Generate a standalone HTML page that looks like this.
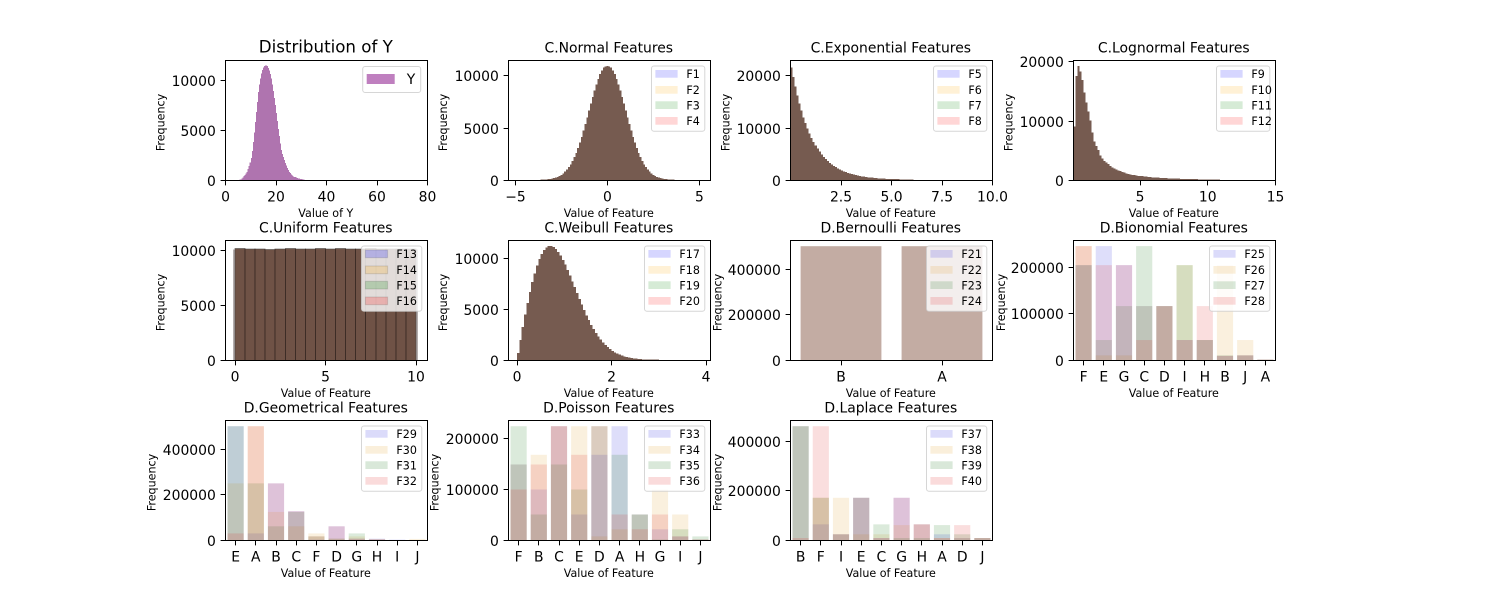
<!DOCTYPE html>
<html lang="en">
<head>
<meta charset="utf-8">
<title>Feature distributions</title>
<style>
html,body{margin:0;padding:0;background:#fff;width:1500px;height:600px;overflow:hidden}
svg{display:block}
text{font-family:"DejaVu Sans","Liberation Sans",sans-serif;fill:#000}
</style>
</head>
<body>
<svg id="chart" xmlns="http://www.w3.org/2000/svg" width="1500" height="600" viewBox="0 0 1500 600"></svg>
<script>
// ---------- histogram data ----------
const yCounts = [30,50,120,250,370,500,650,800,1080,1400,1750,2200,2900,3800,4750,5800,6800,7800,8800,9600,10200,10700,11050,11300,11420,11500,11490,11450,11250,11000,10650,10200,9600,8900,8200,7500,6700,5900,5100,4400,3650,3000,2600,2300,2000,1700,1450,1200,1000,800,670,550,450,350,300,260,210,170,140,110,85,60,45,30];
const normalCounts = [17,24,34,48,66,90,122,163,217,286,372,481,614,777,973,1208,1482,1801,2167,2581,3044,3555,4109,4704,5330,5979,6641,7304,7917,8548,9138,9663,10110,10470,10733,10860,10900,10860,10733,10470,10110,9663,9138,8548,7917,7304,6641,5979,5330,4704,4109,3555,3044,2581,2167,1801,1482,1208,973,777,614,481,372,286,217,163,122,90,66,48,34,24,17];
const exponentialCounts = [21500,19700,17850,16150,14600,13220,11960,10825,9795,8863,8020,7257,6566,5941,5376,4864,4401,3982,3603,3260,2950,2670,2415,2185,1977,1790,1618,1464,1325,1199,1085,982,888,804,727,658,595,539,487,441,399,361,327,296,268,242,219,198,179,162,147,133,120,109,99,89,80,60,50,40,30];
const lognormalCounts = [9000,17500,19200,18300,16800,14700,13000,11500,10000,8000,6500,5700,5000,4100,3600,3200,2900,2650,2300,2100,1900,1750,1600,1450,1320,1200,1100,1000,920,850,790,730,680,640,600,560,520,490,460,430,400,380,360,340,320,300,280,260,240,225,210,195,180,170,160,150,140,130,120,110,100,95,90,85,80,75,70,65,60,50,45,40,30];
const uniformCounts = [10100,10080,10050,10040,10090,10110,10060,10090,10100,10050,10120,10090,10060,10110,10080,10060,10090,10080];
const uniformEdgeCounts = [10100,10080];
const weibullCounts = [649,1940,3194,4404,5550,6617,7589,8455,9206,9837,10343,10720,10974,11105,11127,11033,10840,10558,10204,9779,9302,8785,8233,7666,7093,6512,5942,5387,4855,4348,3867,3421,3007,2625,2283,1972,1695,1445,1229,1036,870,725,600,495,405,330,265,215,172,137,108,85,66,51,40,30,23,17,13,10];

// ---------- categorical data ----------
const bernoulliCategories = ['B','A'];
const f21Values = [500000,500000];
const f22Values = [500000,500000];
const f23Values = [500000,500000];
const f24Values = [500000,500000];

const binomialCategories = ['F','E','G','C','D','I','H','B','J','A'];
const f25Values = [205000,246000,205000,117000,117000,44000,44000,10000,11000,2000];
const f26Values = [246000,11000,11000,117000,117000,205000,44000,205000,44000,2000];
const f27Values = [205000,44000,117000,246000,117000,205000,44000,11000,11000,2000];
const f28Values = [246000,205000,205000,44000,117000,44000,117000,10000,11000,2000];

const geometricCategories = ['E','A','B','C','F','D','G','H','I','J'];
const f29Values = [500000,31000,250000,128000,4000,62000,8000,8000,4000,1000];
const f30Values = [250000,500000,125000,62000,31000,8000,18000,4000,2000,7000];
const f31Values = [500000,250000,62000,125000,18000,8000,31000,4000,2000,1000];
const f32Values = [31000,500000,250000,128000,18000,62000,8000,6000,2000,1000];

const poissonCategories = ['F','B','C','E','D','A','H','G','I','J'];
const f33Values = [149000,100000,224000,51000,168000,224000,51000,22000,8000,2000];
const f34Values = [149000,168000,224000,224000,8000,22000,51000,100000,51000,2000];
const f35Values = [224000,51000,149000,100000,224000,168000,51000,2000,22000,8000];
const f36Values = [100000,149000,224000,168000,224000,51000,22000,51000,8000,2000];

const laplaceCategories = ['B','F','I','E','C','G','H','A','D','J'];
const f37Values = [460000,65000,25000,172000,10000,172000,65000,25000,10000,10000];
const f38Values = [460000,172000,172000,25000,25000,62000,65000,10000,10000,10000];
const f39Values = [460000,172000,25000,172000,65000,10000,10000,62000,25000,10000];
const f40Values = [10000,460000,25000,172000,10000,172000,65000,10000,62000,10000];

// ---------- tick labels ----------
const yXTicks = [0,20,40,60,80];
const normalXTicks = [-5,0,5];
const exponentialXTicks = [2.5,5,7.5,10];
const lognormalXTicks = [5,10,15];
const uniformXTicks = [0,5,10];
const weibullXTicks = [0,2,4];
const ticks5k = [0,5000,10000];
const ticks10k = [0,10000,20000];
const ticks100k = [0,100000,200000];
const ticks200k = [0,200000,400000];

// ---------- styling ----------
const seriesColors = ['rgb(0,0,255)','rgb(255,165,0)','rgb(0,128,0)','rgb(255,0,0)'];
const barColors = ['rgb(32,32,223)','rgb(223,155,32)','rgb(16,112,16)','rgb(223,32,32)'];
const histColors = ['rgb(0,0,117)','rgb(117,76,0)','rgb(0,59,0)','rgb(117,0,0)'];
const colLeft = [225.5,508.5,790.5,1073.5];
const rowTop = [60.5,240.5,420.5];
const AXW = 202, AXH = 120;
const svg = document.getElementById('chart');
const NS = 'http://www.w3.org/2000/svg';

function make(parent, tag, name, attrs, txt) {
  const el = document.createElementNS(NS, tag);
  
  
  for (const k in attrs) el.setAttribute(k, attrs[k]);
  if (txt !== undefined) el.textContent = txt;
  parent.appendChild(el);
  return el;
}

function fmt(v, dec) {
  const s = dec ? v.toFixed(dec) : String(v);
  return s.replace('-', '\u2212');
}

function drawPanel(p) {
  const l = colLeft[p.col], t = rowTop[p.row], r = l + AXW, b = t + AXH;
  const g = make(svg, 'g', p.id + '-panel', {});
  const sx = v => l + (v - p.xlim[0]) / (p.xlim[1] - p.xlim[0]) * AXW;
  const sy = v => b - v / p.ymax * AXH;
  const marks = make(g, 'g', p.id + '-marks', {});

  if (p.hist) {
    p.names.forEach((nm, si) => {
      const layer = make(marks, 'g', nm + '-histogram', {'shape-rendering':'crispEdges'});
      const fill = p.single ? 'rgb(115,10,115)' : histColors[si];
      const op = p.single ? 0.57 : (p.layerOpacity || 0.2775);
      if (p.edgeCounts) {
        p.edgeCounts.forEach((c, i) => {
          const x0 = sx(p.edgeStarts[i]);
          make(layer, 'rect', nm + '-edge-bar', {x:x0, y:sy(c), width:sx(p.edgeStarts[i]+p.edgeWidth)-x0, height:b-sy(c), fill:'rgb(90,80,80)', opacity:0.14});
        });
      }
      p.hist.forEach((c, i) => {
        const x0 = sx(p.binStart + i * p.binWidth);
        const x1 = sx(p.binStart + (i + 1) * p.binWidth);
        const top = sy(c) - 0.7;
        const bar = make(layer, 'rect', nm + '-bar', {x:x0, y:top, width:x1 - x0, height:b - top, fill:fill, opacity:op});
        if (p.binEdges) { bar.setAttribute('stroke', '#000'); bar.setAttribute('stroke-width', '1'); bar.setAttribute('stroke-opacity', '0.4'); }
      });
    });
  } else {
    p.series.forEach((vals, si) => {
      const layer = make(marks, 'g', p.names[si] + '-bars', {});
      vals.forEach((v, i) => {
        const x0 = sx(i - 0.4), x1 = sx(i + 0.4);
        make(layer, 'rect', p.names[si] + '-bar-' + p.categories[i].toLowerCase(), {x:x0, y:sy(v), width:x1 - x0, height:b - sy(v), fill:barColors[si], 'fill-opacity':0.15});
      });
    });
  }

  // ticks
  const xTicks = p.hist ? p.xTicks : p.categories.map((c, i) => i);
  xTicks.forEach((v, i) => {
    const x = Math.round(sx(v) - 0.5) + 0.5;
    make(g, 'line', p.id + '-x-tick', {x1:x, x2:x, y1:b, y2:b + 4.9, stroke:'#000', 'stroke-width':1});
    make(g, 'text', p.id + '-x-tick-label', {x:sx(v), y:b + 21, 'text-anchor':'middle', 'font-size':13.9}, p.hist ? fmt(v, p.xDec) : p.categories[i]);
  });
  p.yTicks.forEach(v => {
    const y = Math.round(sy(v) - 0.5) + 0.5;
    make(g, 'line', p.id + '-y-tick', {x1:l - 4.9, x2:l, y1:y, y2:y, stroke:'#000', 'stroke-width':1});
    make(g, 'text', p.id + '-y-tick-label', {x:l - 9.7, y:y + 5.5, 'text-anchor':'end', 'font-size':13.9}, String(v));
  });

  // frame
  make(g, 'rect', p.id + '-axes-frame', {x:l, y:t, width:AXW, height:AXH, fill:'none', stroke:'#000', 'stroke-width':1});

  // labels
  make(g, 'text', p.id + '-title', {x:l + AXW / 2 - 0.7, y:t - 8, 'text-anchor':'middle', 'font-size':p.single ? 16.67 : 13.9}, p.title);
  make(g, 'text', p.id + '-x-axis-title', {x:l + AXW / 2 - 0.7, y:b + 36.6, 'text-anchor':'middle', 'font-size':11.1}, p.xLabel);
  make(g, 'text', p.id + '-y-axis-title', {x:0, y:0, 'text-anchor':'middle', 'font-size':11.1, transform:'translate(' + (p.ylabelX + 4) + ',' + (t + AXH / 2 + 2) + ') rotate(-90)'}, 'Frequency');

  // legend
  const lg = make(g, 'g', p.id + '-legend', {});
  if (p.single) {
    make(lg, 'rect', p.id + '-legend-box', {x:362.7, y:t + 6, width:58, height:26, rx:2.5, fill:'#fff', 'fill-opacity':0.8, stroke:'#ccc', 'stroke-opacity':0.8, 'stroke-width':1});
    make(lg, 'rect', 'legend-swatch-y', {x:366.7, y:t + 13.5, width:28, height:10, fill:'rgb(128,0,128)', 'fill-opacity':0.5});
    make(lg, 'text', 'legend-label-y', {x:406.7, y:t + 23.5, 'font-size':13.9}, 'Y');
  } else {
    const w = p.names[0].length > 2 ? 60.3 : 53.3;
    const bx = r - 5.7 - w, by = t + 5.5;
    make(lg, 'rect', p.id + '-legend-box', {x:bx, y:by, width:w, height:65.3, rx:2.5, fill:'#fff', 'fill-opacity':0.8, stroke:'#ccc', 'stroke-opacity':0.8, 'stroke-width':1});
    const patchTops = [4,20,35.3,51];
    const palette = p.hist ? seriesColors : barColors;
    p.names.forEach((nm, i) => {
      const sw = make(lg, 'rect', 'legend-swatch-' + nm.toLowerCase(), {x:bx + 3.9, y:by + patchTops[i], width:22.2, height:7.7, fill:palette[i], 'fill-opacity':p.patchOpacity || 0.16});
      if (p.patchOpacity) { sw.setAttribute('stroke', '#000'); sw.setAttribute('stroke-opacity', '0.12'); }
      make(lg, 'text', 'legend-label-' + nm.toLowerCase(), {x:bx + 34.9, y:by + patchTops[i] + 8, 'font-size':11.1}, nm);
    });
  }
}

const FEAT = 'Value of Feature';
drawPanel({id:'y-dist', col:0, row:0, single:true, title:'Distribution of Y', xLabel:'Value of Y', ylabelX:160.7, xlim:[0,80], ymax:12060, hist:yCounts, binStart:5.6, binWidth:0.4, xTicks:yXTicks, yTicks:ticks5k, names:['Y']});
drawPanel({id:'normal', col:1, row:0, title:'C.Normal Features', xLabel:FEAT, ylabelX:443, xlim:[-5.38,5.6], ymax:11480, hist:normalCounts, binStart:-3.65, binWidth:0.1, xTicks:normalXTicks, yTicks:ticks5k, names:['F1','F2','F3','F4']});
drawPanel({id:'exponential', col:2, row:0, title:'C.Exponential Features', xLabel:FEAT, ylabelX:725.7, xlim:[0,10], ymax:22950, hist:exponentialCounts, binStart:0, binWidth:0.1, xTicks:exponentialXTicks, xDec:1, yTicks:ticks10k, names:['F5','F6','F7','F8']});
drawPanel({id:'lognormal', col:3, row:0, title:'C.Lognormal Features', xLabel:FEAT, ylabelX:1008.3, xlim:[0.09,15], ymax:20240, hist:lognormalCounts, binStart:0.09, binWidth:0.148, xTicks:lognormalXTicks, yTicks:ticks10k, names:['F9','F10','F11','F12']});
drawPanel({id:'uniform', col:0, row:1, title:'C.Uniform Features', xLabel:FEAT, ylabelX:160.7, xlim:[-0.525,10.635], ymax:10909, hist:uniformCounts, binStart:0, binWidth:0.5556, binEdges:true, layerOpacity:0.3, edgeCounts:uniformEdgeCounts, edgeStarts:[-0.1,10], edgeWidth:0.1, patchOpacity:0.2, xTicks:uniformXTicks, yTicks:ticks5k, names:['F13','F14','F15','F16']});
drawPanel({id:'weibull', col:1, row:1, title:'C.Weibull Features', xLabel:FEAT, ylabelX:443, xlim:[-0.18,4.095], ymax:11730, hist:weibullCounts, binStart:0, binWidth:0.05, xTicks:weibullXTicks, yTicks:ticks5k, names:['F17','F18','F19','F20']});
drawPanel({id:'bernoulli', col:2, row:1, title:'D.Bernoulli Features', xLabel:FEAT, ylabelX:717.3, xlim:[-0.5,1.5], ymax:525000, categories:bernoulliCategories, series:[f21Values,f22Values,f23Values,f24Values], yTicks:ticks200k, names:['F21','F22','F23','F24']});
drawPanel({id:'binomial', col:3, row:1, title:'D.Bionomial Features', xLabel:FEAT, ylabelX:1000.8, xlim:[-0.5,9.5], ymax:258000, categories:binomialCategories, series:[f25Values,f26Values,f27Values,f28Values], yTicks:ticks100k, names:['F25','F26','F27','F28']});
drawPanel({id:'geometrical', col:0, row:2, title:'D.Geometrical Features', xLabel:FEAT, ylabelX:151.7, xlim:[-0.5,9.5], ymax:525000, categories:geometricCategories, series:[f29Values,f30Values,f31Values,f32Values], yTicks:ticks200k, names:['F29','F30','F31','F32']});
drawPanel({id:'poisson', col:1, row:2, title:'D.Poisson Features', xLabel:FEAT, ylabelX:434.3, xlim:[-0.5,9.5], ymax:235200, categories:poissonCategories, series:[f33Values,f34Values,f35Values,f36Values], yTicks:ticks100k, names:['F33','F34','F35','F36']});
drawPanel({id:'laplace', col:2, row:2, title:'D.Laplace Features', xLabel:FEAT, ylabelX:717.3, xlim:[-0.5,9.5], ymax:483000, categories:laplaceCategories, series:[f37Values,f38Values,f39Values,f40Values], yTicks:ticks200k, names:['F37','F38','F39','F40']});
</script>
</body>
</html>
